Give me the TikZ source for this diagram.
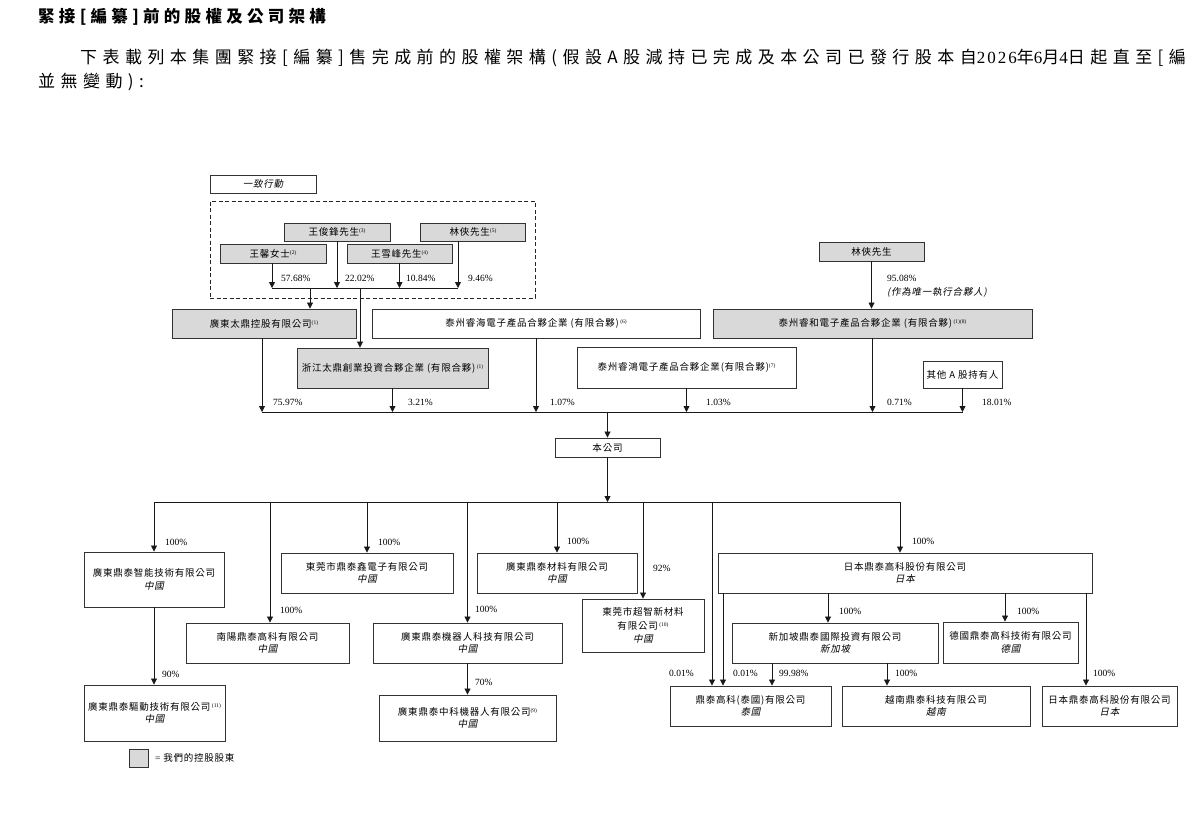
\documentclass[tikz,border=0pt]{standalone}
\usepackage{fontspec}
\setmainfont{Liberation Serif}
\newfontfamily\cjk[LetterSpace=8]{Noto Sans CJK TC}
\newfontfamily\cjki[LetterSpace=8,FakeSlant=0.2]{Noto Sans CJK TC}
\newfontfamily\cjkh[LetterSpace=32]{Noto Sans CJK TC}
\newfontfamily\cjkt[LetterSpace=26]{Noto Sans CJK TC}
\newfontfamily\rmh[LetterSpace=12]{Liberation Serif}
\usetikzlibrary{arrows.meta}
\newcommand\fnm[1]{\raisebox{0.55ex}{\rmfamily\fontsize{5.5}{6}\selectfont #1}}
\tikzset{
  sz/.style 2 args={minimum width=#1pt, minimum height=#2pt},
  box/.style={draw=black!80, line width=0.9pt, inner sep=0pt, align=center,
    font=\cjk\fontsize{9.5}{12.5}\selectfont},
  ctrl/.style={box, fill=black!15},
  ln/.style={line width=0.8pt, draw=black!90},
  arr/.style={ln, -{Triangle[length=6pt,width=6pt]}},
  pct/.style={anchor=west, inner sep=0pt, font=\rmfamily\fontsize{9.5}{11}\selectfont},
  note/.style={anchor=west, inner sep=0pt, font=\cjki\fontsize{9.5}{11}\selectfont},
  head/.style={anchor=west, inner sep=0pt, font=\cjkh\fontsize{17}{19}\selectfont},
}
\begin{document}
\begin{tikzpicture}[x=1pt,y=-1pt]
\fill[white] (0,0) rectangle (1190,820);
\useasboundingbox (0,0) rectangle (1190,820);

% heading text
\node[head, font=\cjkt\bfseries\fontsize{16.5}{18}\selectfont] (t1) at (38,17) {緊接[編纂]前的股權及公司架構};
\node[head] (t2) at (80,58) {下表載列本集團緊接[編纂]售完成前的股權架構(假設A股減持已完成及本公司已發行股本自{\rmh 2026}年{\rmh 6}月{\rmh 4}日起直至[編};
\node[head] (t3) at (38,82) {並無變動):};

% concert party
\node[box, sz={106}{18}, font=\cjki\fontsize{9.5}{12}\selectfont] (yz) at (263,184) {一致行動};
\node[draw=black!85, line width=0.8pt, dash pattern=on 4pt off 2.5pt, sz={325}{97}, inner sep=0pt] (grp) at (372.5,249.5) {};
\node[ctrl, sz={106}{18}] (wjf) at (337,232) {王俊鋒先生\fnm{(3)}};
\node[ctrl, sz={105}{18}] (lx1) at (473,232) {林俠先生\fnm{(5)}};
\node[ctrl, sz={106}{19}] (wx) at (273,253.5) {王馨女士\fnm{(2)}};
\node[ctrl, sz={105}{19}] (wxf) at (399.5,253.5) {王雪峰先生\fnm{(4)}};

\node[pct] (p1) at (281,278) {57.68\%};
\node[pct] (p2) at (345,278) {22.02\%};
\node[pct] (p3) at (406,278) {10.84\%};
\node[pct] (p4) at (468,278) {9.46\%};

% shareholders
\node[ctrl, sz={184}{29}] (gdtd) at (264,323.5) {廣東太鼎控股有限公司\fnm{(1)}};
\node[box, sz={328}{29}] (tzrh) at (536,323.5) {泰州睿海電子產品合夥企業 (有限合夥)\,\fnm{(6)}};
\node[ctrl, sz={191}{40}] (zjtd) at (392.5,368) {浙江太鼎創業投資合夥企業 (有限合夥)\,\fnm{(1)}};
\node[ctrl, sz={105}{19}] (lx2) at (871.5,251.5) {林俠先生};
\node[pct] (p5) at (887,278) {95.08\%};
\node[note] (p6) at (887,292) {(作為唯一執行合夥人)};
\node[ctrl, sz={319}{29}] (tzrhe) at (872.5,323.5) {泰州睿和電子產品合夥企業 (有限合夥)\,\fnm{(1)(8)}};
\node[box, sz={219}{41}] (tzrhong) at (686.5,367.5) {泰州睿鴻電子產品合夥企業(有限合夥)\fnm{(7)}};
\node[box, sz={79}{27}] (oth) at (962.5,374.5) {其他 A 股持有人};

\node[pct] (q1) at (273,402) {75.97\%};
\node[pct] (q2) at (408,402) {3.21\%};
\node[pct] (q3) at (550,402) {1.07\%};
\node[pct] (q4) at (706,402) {1.03\%};
\node[pct] (q5) at (887,402) {0.71\%};
\node[pct] (q6) at (982,402) {18.01\%};

\node[box, sz={105}{19}] (co) at (607.5,447.5) {本公司};

% subsidiaries
\node[box, sz={140}{55}] (zn) at (154,579.5) {廣東鼎泰智能技術有限公司\\{\cjki 中國}};
\node[box, sz={141}{56}] (qd) at (154.5,713) {廣東鼎泰驅動技術有限公司\,\fnm{(11)}\\{\cjki 中國}};
\node[box, sz={163}{40}] (ny) at (267.5,643) {南陽鼎泰高科有限公司\\{\cjki 中國}};
\node[box, sz={172}{40}] (dgx) at (367,573) {東莞市鼎泰鑫電子有限公司\\{\cjki 中國}};
\node[box, sz={189}{40}] (jqr) at (467.5,643) {廣東鼎泰機器人科技有限公司\\{\cjki 中國}};
\node[box, sz={177}{46}] (zk) at (467.5,718) {廣東鼎泰中科機器人有限公司\fnm{(9)}\\{\cjki 中國}};
\node[box, sz={160}{40}] (cl) at (557,573) {廣東鼎泰材料有限公司\\{\cjki 中國}};
\node[box, sz={122}{53}, font=\cjk\fontsize{9.5}{13.5}\selectfont] (cz) at (643,625.5) {東莞市超智新材料\\有限公司\,\fnm{(10)}\\{\cjki 中國}};
\node[box, sz={374}{40}] (jp1) at (905,573) {日本鼎泰高科股份有限公司\\{\cjki 日本}};
\node[box, sz={206}{40}] (sg) at (835,643) {新加坡鼎泰國際投資有限公司\\{\cjki 新加坡}};
\node[box, sz={135}{41}] (de) at (1010.5,642.5) {德國鼎泰高科技術有限公司\\{\cjki 德國}};
\node[box, sz={161}{40}] (th) at (750.5,706) {鼎泰高科(泰國)有限公司\\{\cjki 泰國}};
\node[box, sz={188}{40}] (vn) at (936,706) {越南鼎泰科技有限公司\\{\cjki 越南}};
\node[box, sz={135}{40}] (jp2) at (1109.5,706) {日本鼎泰高科股份有限公司\\{\cjki 日本}};

\node[pct] (r1) at (165,542) {100\%};
\node[pct] (r2) at (280,610) {100\%};
\node[pct] (r3) at (378,542) {100\%};
\node[pct] (r4) at (475,609) {100\%};
\node[pct] (r5) at (567,541) {100\%};
\node[pct] (r6) at (653,568) {92\%};
\node[pct] (r7) at (912,541) {100\%};
\node[pct] (r8) at (162,674) {90\%};
\node[pct] (r9) at (475,682) {70\%};
\node[pct] (r10) at (669,673) {0.01\%};
\node[pct] (r11) at (733,673) {0.01\%};
\node[pct] (r12) at (779,673) {99.98\%};
\node[pct] (r13) at (839,611) {100\%};
\node[pct] (r14) at (1017,611) {100\%};
\node[pct] (r15) at (1093,673) {100\%};
\node[pct] (r16) at (895,673) {100\%};

% legend
\node[ctrl, sz={19}{18}] (lg) at (138.5,758) {};
\node[anchor=west, inner sep=0pt, font=\cjk\fontsize{9.5}{11}\selectfont] (lgt) at (155,758) {{\rmfamily =} 我們的控股股東};

% ---- connectors: concert party
\coordinate (j1) at (272,288);
\coordinate (j4) at (458,288);
\coordinate (j5) at (310,288);
\coordinate (j6) at (360,288);
\draw[arr] (wx.south -| j1) -- (j1);
\draw[arr] (wjf.south) -- (wjf.south |- j1);
\draw[arr] (wxf.south) -- (wxf.south |- j1);
\draw[arr] (lx1.south -| j4) -- (j4);
\draw[ln] (j1) -- (j4);
\draw[arr] (j5) -- (gdtd.north -| j5);
\draw[arr] (j6) -- (zjtd.north -| j6);

% ---- shareholders to company
\coordinate (k1) at (262,412);
\draw[arr] (lx2.south) -- (lx2.south |- tzrhe.north);
\draw[arr] (gdtd.south -| k1) -- (k1);
\draw[arr] (zjtd.south) -- (zjtd.south |- k1);
\draw[arr] (tzrh.south) -- (tzrh.south |- k1);
\draw[arr] (tzrhong.south) -- (tzrhong.south |- k1);
\draw[arr] (tzrhe.south) -- (tzrhe.south |- k1);
\draw[arr] (oth.south) -- (oth.south |- k1);
\draw[ln] (k1) -- (oth.south |- k1);
\draw[arr] (co.north |- k1) -- (co.north);

% ---- company to subsidiaries
\coordinate (bus) at (0,502);
\coordinate (xny) at (270,0);
\coordinate (xth1) at (712,0);
\coordinate (xjp) at (900,0);
\coordinate (xth2) at (723,0);
\coordinate (xsg) at (828,0);
\coordinate (xde) at (1005,0);
\coordinate (xjp2) at (1086,0);
\coordinate (xth3) at (772,0);
\coordinate (xvn) at (887,0);
\draw[arr] (co.south) -- (co.south |- bus);
\draw[ln] (zn.north |- bus) -- (xjp |- bus);
\draw[arr] (zn.north |- bus) -- (zn.north);
\draw[arr] (xny |- bus) -- (xny |- ny.north);
\draw[arr] (dgx.north |- bus) -- (dgx.north);
\draw[arr] (jqr.north |- bus) -- (jqr.north);
\draw[arr] (cl.north |- bus) -- (cl.north);
\draw[arr] (cz.north |- bus) -- (cz.north);
\draw[arr] (xth1 |- bus) -- (xth1 |- th.north);
\draw[arr] (xjp |- bus) -- (xjp |- jp1.north);
\draw[arr] (zn.south) -- (zn.south |- qd.north);
\draw[arr] (jqr.south) -- (zk.north);
\draw[arr] (xth2 |- jp1.south) -- (xth2 |- th.north);
\draw[arr] (xsg |- jp1.south) -- (xsg |- sg.north);
\draw[arr] (xde |- jp1.south) -- (xde |- de.north);
\draw[arr] (xjp2 |- jp1.south) -- (xjp2 |- jp2.north);
\draw[arr] (xth3 |- sg.south) -- (xth3 |- th.north);
\draw[arr] (xvn |- sg.south) -- (xvn |- vn.north);
\end{tikzpicture}
\end{document}
